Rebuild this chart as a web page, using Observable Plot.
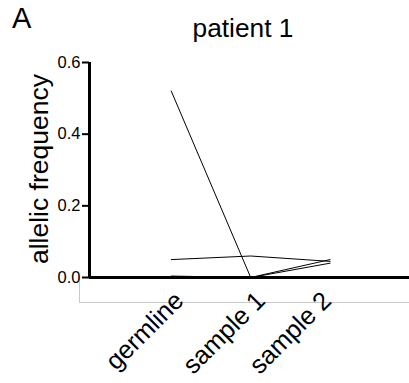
<!DOCTYPE html>
<html>
<head>
<meta charset="utf-8">
<script src="https://cdn.jsdelivr.net/npm/d3@7"></script>
<script src="https://cdn.jsdelivr.net/npm/@observablehq/plot@0.6"></script>
<style>
  html, body { margin: 0; padding: 0; background: white; }
  #wrap { position: relative; width: 409px; height: 383px; font-family: "Liberation Sans", Arial, sans-serif; }
  #panel { position: absolute; left: 12px; top: 2px; font-size: 29px; color: #000; }
  #title { position: absolute; left: 0; width: 486px; top: 13px; text-align: center; font-size: 26.3px; color: #000; }
  #ylabel { position: absolute; left: 39px; top: 169px; transform: translate(-50%, -50%) rotate(-90deg); white-space: nowrap; font-size: 26.5px; line-height: 1; color: #000; }
  #box { position: absolute; left: 79px; top: 277px; width: 330px; height: 26px; border-left: 1px solid #c8c8c8; border-bottom: 1px solid #c8c8c8; box-sizing: border-box; }
  #chart { position: absolute; left: 0; top: 0; }
</style>
</head>
<body>
<div id="wrap">
  <div id="box"></div>
  <div id="panel">A</div>
  <div id="title">patient 1</div>
  <div id="ylabel">allelic frequency</div>
  <div id="chart"></div>
</div>
<script>
const categories = ["germline", "sample 1", "sample 2"];
const seriesA = [0.52, 0.0, 0.05];
const seriesB = [0.05, 0.06, 0.045];
const seriesC = [0.004, 0.0, 0.04];
const yTicks = [0, 0.2, 0.4, 0.6];

const allSeries = [seriesA, seriesB, seriesC];
const data = allSeries.flatMap((vals, s) => vals.map((v, i) => ({series: s, i, value: v})));

const xMin = -1.03, xMax = 3.0;
const labelShift = [8, 10, -3];

const plot = Plot.plot({
  width: 409,
  height: 383,
  marginLeft: 89,
  marginRight: 0,
  marginTop: 62,
  marginBottom: 106,
  style: {background: "none", fontFamily: "'Liberation Sans', Arial, sans-serif", color: "#000"},
  x: {type: "linear", domain: [xMin, xMax], axis: null},
  y: {domain: [0, 0.6], axis: null},
  marks: [
    Plot.axisY({ticks: yTicks, tickFormat: d => d.toFixed(1), tickSize: 7, tickPadding: 2, fontSize: 16.5, label: null, strokeWidth: 2}),
    ...categories.map((c, i) => Plot.axisX({ticks: [i], tickFormat: j => categories[j], tickSize: 0, tickRotate: -45, fontSize: 25.5, label: null, dx: labelShift[i], dy: 7})),
    Plot.ruleX([xMin], {strokeWidth: 3}),
    Plot.ruleY([0], {strokeWidth: 3}),
    Plot.lineY(data, {x: "i", y: "value", z: "series", stroke: "#000", strokeWidth: 1})
  ]
});
document.getElementById("chart").appendChild(plot);
</script>
</body>
</html>
